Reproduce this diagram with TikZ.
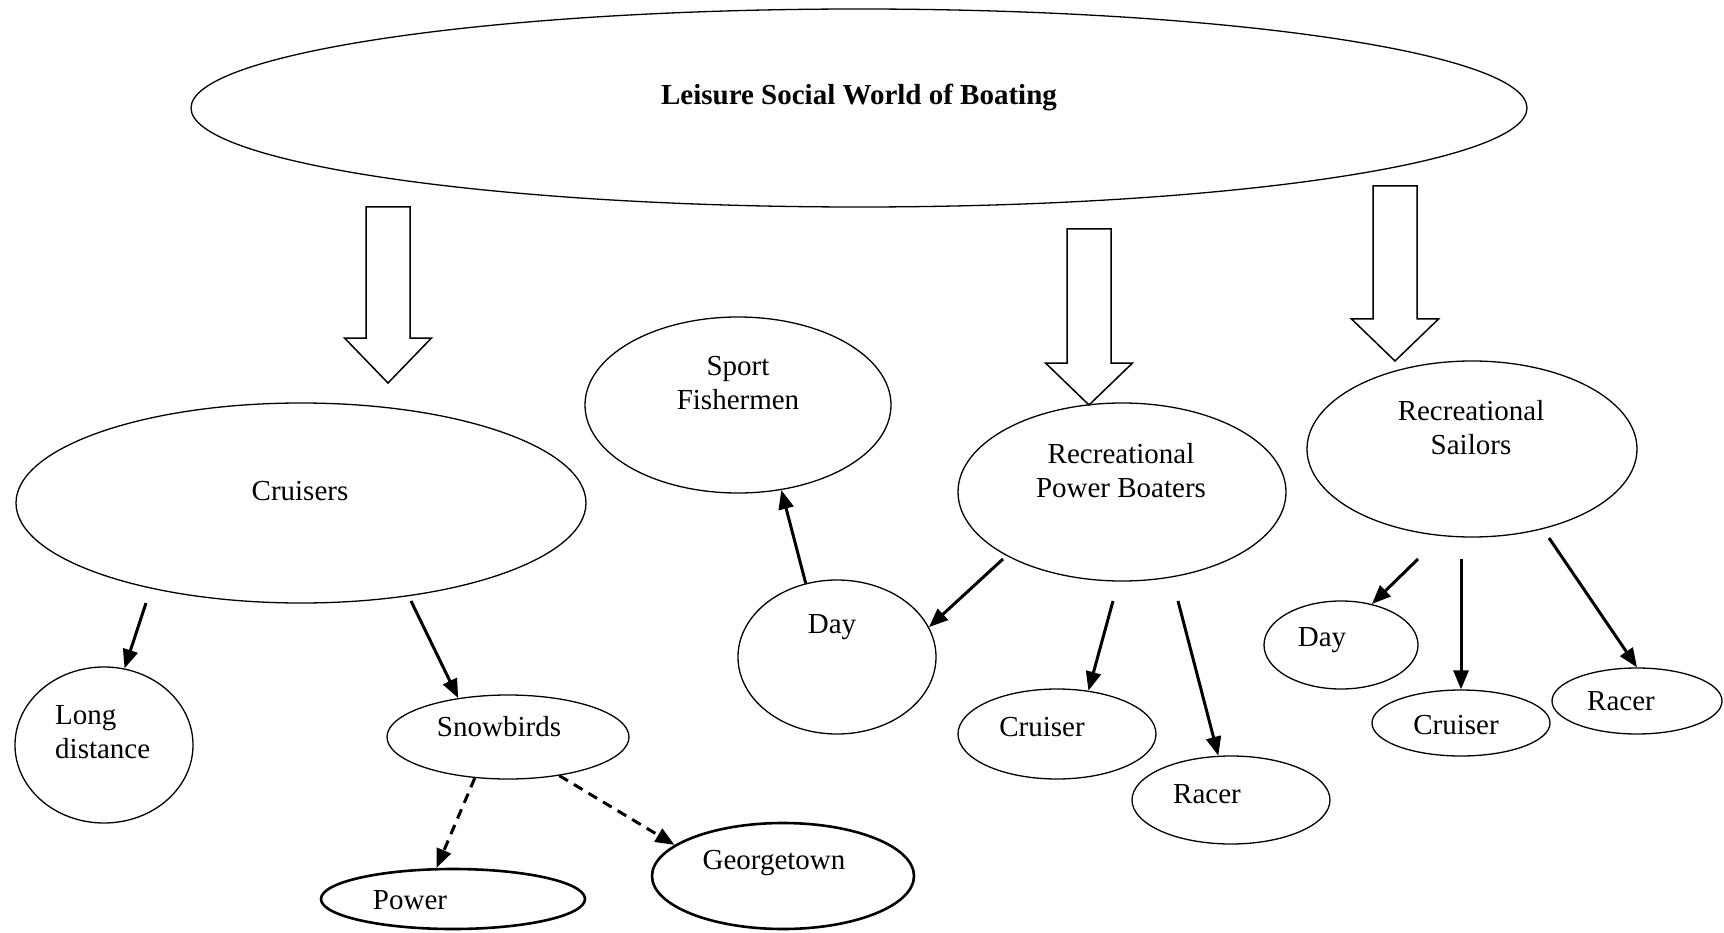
\documentclass[tikz,border=0pt]{standalone}
\usepackage{fontspec}
\setmainfont{Liberation Serif}
\usetikzlibrary{shapes.geometric,arrows.meta}
\newcommand\blockarrowshape[4]{% x center, y top, y head base, y tip
  \draw[blk] (#1-22,#2) -- (#1+22,#2) -- (#1+22,#3) -- (#1+43.5,#3) -- (#1,#4)
    -- (#1-43.5,#3) -- (#1-22,#3) -- cycle;}
\begin{document}
\begin{tikzpicture}[x=1pt,y=-1pt,
  ell/.style={draw, ellipse, line width=1.3pt, inner sep=0pt},
  thick ell/.style={ell, line width=2.6pt},
  txt/.style={font=\fontsize{29}{34}\selectfont, align=center, inner sep=0pt},
  arr/.style={-{Triangle[length=19pt,width=15pt]}, line width=3pt},
  dasharr/.style={arr, dash pattern=on 10pt off 7pt},
  blk/.style={line width=1.5pt, fill=white}]
\useasboundingbox (0,0) rectangle (1724,933);
\fill[white] (0,0) rectangle (1724,933);

% ellipses
\node[ell, minimum width=1336pt, minimum height=198pt] (top) at (859,108) {};
\node[ell, minimum width=570pt, minimum height=200pt] (cru) at (301,503) {};
\node[ell, minimum width=178pt, minimum height=156pt] (ld) at (104,745) {};
\node[ell, minimum width=242pt, minimum height=84pt] (snow) at (508,737) {};
\node[thick ell, minimum width=264pt, minimum height=60pt] (pow) at (453,899) {};
\node[thick ell, minimum width=262pt, minimum height=106pt] (geo) at (783,876) {};
\node[ell, minimum width=306pt, minimum height=176pt] (sf) at (738,405) {};
\node[ell, minimum width=198pt, minimum height=154pt] (dayL) at (837,657) {};
\node[ell, minimum width=328pt, minimum height=178pt] (rpb) at (1122,492) {};
\node[ell, minimum width=198pt, minimum height=90pt] (cruM) at (1057,734) {};
\node[ell, minimum width=198pt, minimum height=88pt] (racM) at (1231,800) {};
\node[ell, minimum width=330pt, minimum height=176pt] (rs) at (1472,449) {};
\node[ell, minimum width=154pt, minimum height=88pt] (dayR) at (1341,645) {};
\node[ell, minimum width=178pt, minimum height=66pt] (cruR) at (1461,723) {};
\node[ell, minimum width=170pt, minimum height=66pt] (racR) at (1637,701) {};

% texts
\node[txt, font=\fontsize{29}{34}\selectfont\bfseries] (top-t) at (859,97) {Leisure Social World of Boating};
\node[txt] (cru-t) at (300,491) {Cruisers};
\node[txt, anchor=west, align=left] (ld-t) at (55,732) {Long\\distance};
\node[txt] (snow-t) at (499,727) {Snowbirds};
\node[txt] (pow-t) at (410,900) {Power};
\node[txt] (geo-t) at (774,863) {Georgetown};
\node[txt] (sf-t) at (738,383) {Sport\\Fishermen};
\node[txt] (dayL-t) at (832,627) {Day};
\node[txt] (rpb-t) at (1121,471) {Recreational\\Power Boaters};
\node[txt] (cruM-t) at (1042,727) {Cruiser};
\node[txt] (racM-t) at (1207,794) {Racer};
\node[txt] (rs-t) at (1471,428) {Recreational\\Sailors};
\node[txt] (dayR-t) at (1322,640) {Day};
\node[txt] (cruR-t) at (1456,725) {Cruiser};
\node[txt] (racR-t) at (1621,701) {Racer};

% block arrows
\blockarrowshape{388}{207}{338}{383}
\blockarrowshape{1089}{229}{363}{405}
\blockarrowshape{1395}{186}{319}{361}

% start points of connectors
\coordinate (s1) at (146,603);
\coordinate (s2) at (411,601);
\coordinate (s6) at (1003,559);
\coordinate (s7) at (1113,601);
\coordinate (s8) at (1178,601);
\coordinate (s9) at (1418,559);
\coordinate (s10) at (1461,559);
\coordinate (s11) at (1549,538);

% connectors
\draw[arr] (s1) -- (ld.75);
\draw[arr] (s2) -- (snow.142);
\draw[dasharr] (snow.231) -- (pow.118);
\draw[dasharr] (snow.-37) -- (geo.164);
\draw[arr] (dayL.113) -- (sf.-63);
\draw[arr] (s6) -- (dayL.18);
\draw[arr] (s7) -- (cruM.54);
\draw[arr] (s8) -- (racM.106);
\draw[arr] (s9) -- (dayR.53);
\draw[arr] (s10) -- (cruR.90);
\draw[arr] (s11) -- (racR.90);
\end{tikzpicture}
\end{document}
